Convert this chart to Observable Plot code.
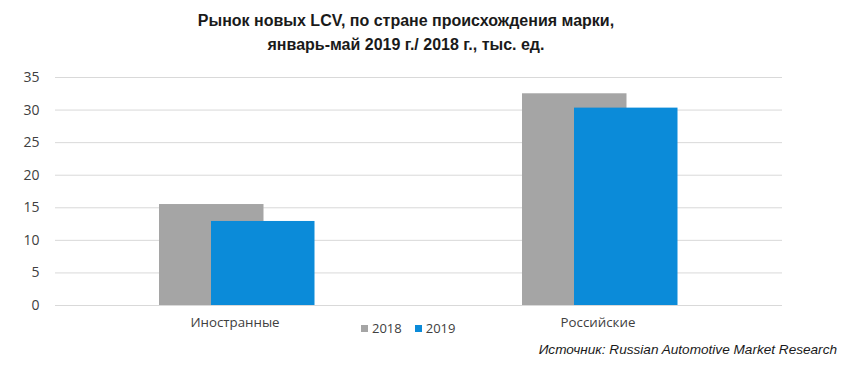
<!DOCTYPE html>
<html>
<head>
<meta charset="utf-8">
<script src="https://cdn.jsdelivr.net/npm/d3@7"></script>
<script src="https://cdn.jsdelivr.net/npm/@observablehq/plot@0.6"></script>
<style>
  html, body { margin: 0; padding: 0; background: #fff; }
  #wrap { position: relative; width: 850px; height: 368px; overflow: hidden; }
  #title { position: absolute; left: 0; top: 9px; width: 812px; text-align: center;
    font-family: "Liberation Sans Narrow", "Liberation Sans", Arial, sans-serif; font-weight: bold;
    font-size: 16px; line-height: 24px; color: #1a1a1a; }
  #chart { position: absolute; left: 0; top: 60px; }
  #legend { position: absolute; top: 319px; left: 361px; font-family: "Open Sans", sans-serif;
    font-size: 13px; color: #404040; display: flex; align-items: center; }
  #legend .sw { display: inline-block; width: 7px; height: 7px; margin-right: 4px; }
  #legend .it { display: flex; align-items: center; margin-right: 13px; }
  #caption { position: absolute; right: 13px; top: 342px; font-family: "Liberation Sans", Arial, sans-serif;
    font-style: italic; font-size: 13.6px; color: #1a1a1a; }
</style>
</head>
<body>
<div id="wrap">
  <div id="title">Рынок новых LCV, по стране происхождения марки,<br>январь-май 2019 г./ 2018 г., тыс. ед.</div>
  <div id="chart"></div>
  <div id="legend"></div>
  <div id="caption">Источник: Russian Automotive Market Research</div>
</div>
<script>
const categories = ["Иностранные", "Российские"];
const years = ["2018", "2019"];
const values2018 = [15.5, 32.5];
const values2019 = [12.9, 30.3];
const yTicks = [0, 5, 10, 15, 20, 25, 30, 35];
const colors = ["#a5a5a5", "#0b8bd9"];

const data2018 = categories.map((c, i) => ({category: c, year: years[0], value: values2018[i]}));
const data2019 = categories.map((c, i) => ({category: c, year: years[1], value: values2019[i]}));

const plot = Plot.plot({
  width: 850,
  height: 280,
  marginTop: 17,
  marginBottom: 35,
  marginLeft: 55,
  marginRight: 68,
  style: {fontFamily: "'Open Sans', sans-serif", fontSize: "13px", color: "#404040", background: "#fff"},
  x: {domain: categories, padding: 0, label: null},
  y: {domain: [0, 35], label: null},
  color: {domain: years, range: colors},
  marks: [
    Plot.ruleY(yTicks, {stroke: "#d9d9d9", strokeWidth: 1}),
    Plot.barY(data2018, {x: "category", y: "value", fill: "year", insetLeft: 103, insetRight: 155.5}),
    Plot.barY(data2019, {x: "category", y: "value", fill: "year", insetLeft: 155, insetRight: 104.5}),
    Plot.axisY({ticks: yTicks, tickSize: 0, tickPadding: 16, fontSize: 14, label: null}),
    Plot.axisX({tickSize: 0, tickPadding: 12, fontSize: 13.3, dx: -3, label: null})
  ]
});
document.getElementById("chart").appendChild(plot);

const legend = document.getElementById("legend");
years.forEach((y, i) => {
  const it = document.createElement("span");
  it.className = "it";
  it.innerHTML = `<span class="sw" style="background:${colors[i]}"></span>${y}`;
  legend.appendChild(it);
});
</script>
</body>
</html>
